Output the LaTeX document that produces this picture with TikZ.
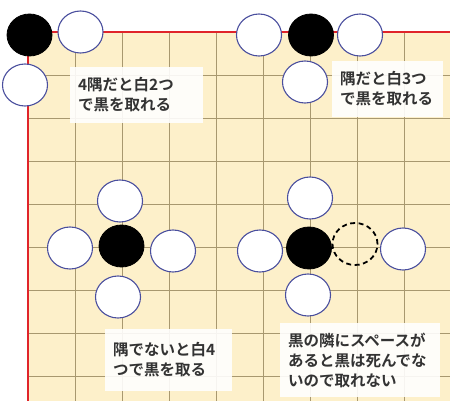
\documentclass[tikz,border=0pt]{standalone}
\usepackage{fontspec}
\newfontfamily\jp{Noto Sans CJK JP}[BoldFont={Noto Sans CJK JP Bold}]
\usetikzlibrary{shapes.geometric}
\definecolor{board}{HTML}{FDF0CA}
\definecolor{gridc}{HTML}{A8986F}
\definecolor{redl}{HTML}{E0242A}
\definecolor{rim}{HTML}{4A4F9E}
\definecolor{txt}{HTML}{333333}
\tikzset{
  stone/.style={ellipse, minimum width=45pt, minimum height=42pt, inner sep=0pt},
  wstone/.style={stone, fill=white, draw=rim, line width=1.1pt},
  bstone/.style={stone, fill=black, draw=black, line width=0.8pt},
  emptyspot/.style={stone, draw=black, line width=1.8pt, dash pattern=on 5pt off 3.5pt},
  gridline/.style={draw=gridc, line width=0.8pt},
  edgeline/.style={draw=redl, line width=2pt},
  note/.style={rectangle, fill=white, fill opacity=0.9, text opacity=1, inner xsep=8pt, inner ysep=0pt,
    align=left, text=txt, font=\jp\bfseries\fontsize{15.5pt}{20pt}\selectfont},
}
\begin{document}
\begin{tikzpicture}[x=1pt, y=-1pt]
\useasboundingbox (0,0) rectangle (450,401);
\fill[white] (0,0) rectangle (450,401);
\fill[board] (28,32) rectangle (450,401);
% grid
\foreach \x in {75,122,169,216,263,310,357,404} \draw[gridline] (\x,32) -- (\x,401);
\foreach \y in {75,118,161,204,247,290,333,376} \draw[gridline] (28,\y) -- (450,\y);
\draw[edgeline] (450,32) -- (28,32) -- (28,401);
% top-left corner
\node[bstone] (tlb) at (29.5,35) {};
\node[wstone] (tlw1) at (80.5,32) {};
\node[wstone] (tlw2) at (25,85) {};
% top edge
\node[wstone] (tew1) at (259,35) {};
\node[bstone] (teb) at (311,35) {};
\node[wstone] (tew2) at (360,35) {};
\node[wstone] (tew3) at (305,82) {};
% middle, captured
\node[wstone] (mw1) at (120,201) {};
\node[bstone] (mb) at (121.5,246) {};
\node[wstone] (mw2) at (70,248) {};
\node[wstone] (mw3) at (173,251) {};
\node[wstone] (mw4) at (118,297) {};
% middle, with space
\node[wstone] (sw1) at (310,198) {};
\node[bstone] (sb) at (309,248) {};
\node[wstone] (sw2) at (260,251) {};
\node[emptyspot] (sp) at (355,244) {};
\node[wstone] (sw3) at (403,249) {};
\node[wstone] (sw4) at (308,295) {};
% notes
\node[note, text width=117pt, minimum height=56pt] (n1) at (136.5,95) {4隅だと白2つ\\で黒を取れる};
\node[note, text width=95pt, minimum height=56pt] (n2) at (387.5,89) {隅だと白3つ\\で黒を取れる};
\node[note, text width=111pt, minimum height=62pt] (n3) at (168.5,360) {隅でないと白4\\つで黒を取る};
\node[note, text width=144pt, minimum height=74pt] (n4) at (360,360) {黒の隣にスペースが\\あると黒は死んでな\\いので取れない};
\end{tikzpicture}
\end{document}
